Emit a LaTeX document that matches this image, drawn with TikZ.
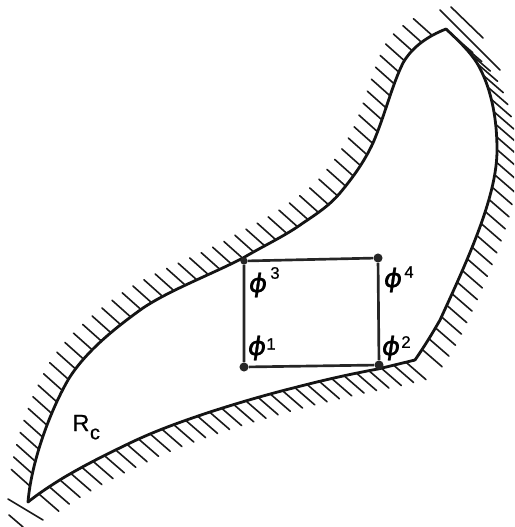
\documentclass[tikz,border=0pt]{standalone}
\usepackage{fontspec}
\setmainfont{Liberation Sans}
\newfontfamily\phifont[FakeSlant=0.15,FakeStretch=1.12,FakeBold=0.9]{DejaVu Sans}
\newfontfamily\numfont[FakeBold=0.6]{Liberation Sans}
\usetikzlibrary{decorations.markings}
\tikzset{
  x=0.75pt,y=-0.75pt,
  wall/.style={line width=2.1pt,line cap=round,line join=round,black!92},
  tick/.style={line width=1.2pt,line cap=round,black!90},
  edgeline/.style={line width=2pt,black!85},
  pt/.style={circle,fill=black!85,inner sep=0pt,minimum size=6.8pt},
  phil/.style={inner sep=0pt,font=\phifont\fontsize{19}{19}\selectfont},
  numl/.style={inner sep=0pt,font=\numfont\fontsize{12.5}{12.5}\selectfont},
  hatchUL/.style={postaction={decorate,decoration={markings,
     mark=between positions 12pt and -2pt step 9.5pt with {\pgftransformresetnontranslations
     \draw[tick] (0,0) -- (-14pt,12.5pt);}}}},
  hatchLR/.style={postaction={decorate,decoration={markings,
     mark=between positions 7pt and -2pt step 9.5pt with {\pgftransformresetnontranslations
     \draw[tick] (0,0) -- (15pt,-13pt);}}}}
}
\begin{document}
\begin{tikzpicture}
\useasboundingbox (0,0) rectangle (514,527);
\begin{scope}
\clip (0,0) rectangle (514,527);
\draw[wall,hatchUL] (28,502) .. controls (31,465) and (48,415) .. (68,380)
  .. controls (85,352) and (115,328) .. (143,308)
  .. controls (170,290) and (210,275) .. (243,258)
  .. controls (265,245) and (285,236) .. (303,223)
  .. controls (318,213) and (330,205) .. (340,193)
  .. controls (355,175) and (365,160) .. (373,143)
  .. controls (385,115) and (392,85) .. (403,63)
  .. controls (412,47) and (428,36) .. (446,29);
\draw[wall,hatchLR] (446,29) .. controls (460,42) and (470,52) .. (477,63)
  .. controls (490,85) and (497,115) .. (497,150)
  .. controls (497,195) and (470,255) .. (440,320)
  .. controls (432,334) and (424,347) .. (415,360);
\draw[wall,hatchLR] (415,360) -- (378,369)
  .. controls (350,374) and (320,381) .. (297,387)
  .. controls (265,395) and (238,403) .. (210,412)
  .. controls (180,422) and (155,431) .. (130,443)
  .. controls (105,455) and (85,465) .. (63,478)
  .. controls (50,486) and (38,494) .. (28,502);
\draw[tick] (451,7) -- (483,38);
\draw[tick] (440,10) -- (500,70);
\draw[tick] (8,499) -- (43,520);
\draw[tick] (9,515) -- (23,527);
\end{scope}
\node[pt] (p1) at (244,367) {};
\node[pt] (p2) at (379,365) {};
\node[pt,minimum size=5.5pt] (p3) at (244,261) {};
\node[pt] (p4) at (378,258) {};
\draw[edgeline] (p1) -- (p2) -- (p4) -- (p3) -- (p1);
\node[phil] (f1) at (256,348) {ϕ};
\node[numl] (n1) at (271,344) {1};
\node[phil] (f2) at (390,348) {ϕ};
\node[numl] (n2) at (406,342) {2};
\node[phil] (f3) at (257,285) {ϕ};
\node[numl] (n3) at (275,273) {3};
\node[phil] (f4) at (392,280) {ϕ};
\node[numl] (n4) at (409,272) {4};
\node[numl,font=\numfont\fontsize{17.5}{17.5}\selectfont] (r) at (81,423) {R};
\node[numl,font=\numfont\fontsize{15}{15}\selectfont] (c) at (95,434) {c};
\end{tikzpicture}
\end{document}
